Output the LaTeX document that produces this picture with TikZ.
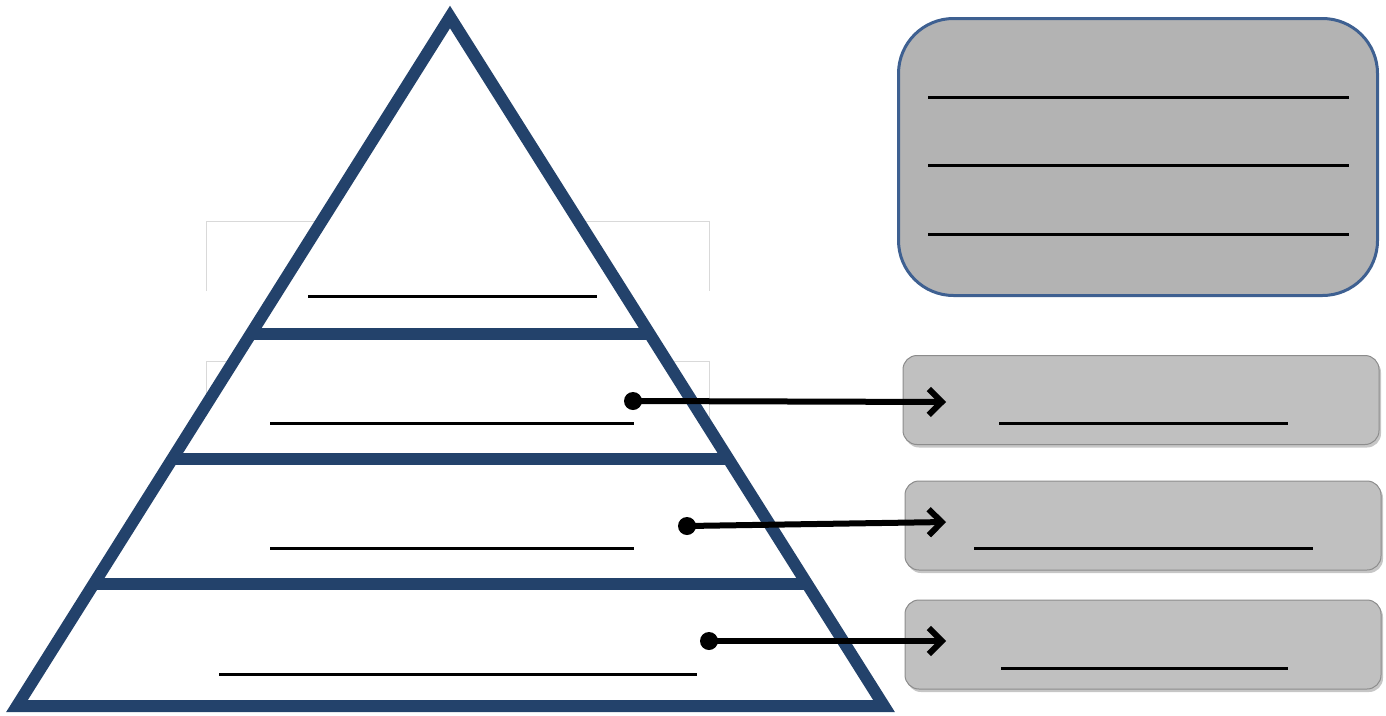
\documentclass[tikz,border=0pt]{standalone}
\usepackage{tikz}
\usetikzlibrary{arrows.meta, calc, shadows}

\definecolor{pyrblue}{RGB}{35,66,107}
\definecolor{notegray}{RGB}{179,179,179}
\definecolor{tabgray}{RGB}{192,192,192}
\definecolor{edgeblue}{RGB}{62,96,145}

\begin{document}
\begin{tikzpicture}[x=1pt, y=-1pt,
pyr/.style={draw=pyrblue, line width=12pt, line join=miter},
blank/.style={draw=black, line width=3pt},
ghost/.style={draw=black!15, line width=1pt},
note/.style={draw=edgeblue, fill=notegray, line width=3pt, rounded corners=55pt, minimum width=479pt, minimum height=277pt},
tab/.style={draw=black!45, fill=tabgray, line width=1pt, rounded corners=14pt, minimum width=476pt, minimum height=89pt, drop shadow={shadow xshift=2pt, shadow yshift=-3pt, opacity=0.45}},
dot/.style={circle, fill=black, inner sep=0pt, minimum size=18pt},
conn/.style={-{Straight Barb[length=13pt, width=26pt]}, line width=6pt, line cap=round, line join=round}]

\useasboundingbox (0,0) rectangle (1386,715);

\draw[ghost] (206,291) |- (709,221) -- (709,291);
\draw[ghost] (206,420) |- (709,361) -- (709,420);

\coordinate (apex) at (450,17);
\coordinate (bl)   at (17,706);
\coordinate (br)   at (884,706);
\draw[pyr, fill=white] (apex) -- (bl) -- (br) -- cycle;
\foreach \t in {0.460,0.642,0.823}
  \draw[pyr] ($(apex)!\t!(bl)$) -- ($(apex)!\t!(br)$);

\draw[blank] (308,296) -- (597,296);
\draw[blank] (270,423) -- (634,423);
\draw[blank] (270,548) -- (634,548);
\draw[blank] (219,674) -- (697,674);

\node[note] (N)  at (1138,157)   {};
\node[tab]  (T1) at (1141,400)   {};
\node[tab]  (T2) at (1143,525.5) {};
\node[tab]  (T3) at (1143,644.5) {};

\foreach \y in {97,165,234}
  \draw[blank] (928,\y) -- (1349,\y);
\draw[blank] (999,423)  -- (1288,423);
\draw[blank] (974,548)  -- (1313,548);
\draw[blank] (1001,668) -- (1288,668);

\node[dot] (D1) at (633,401) {};
\node[dot] (D2) at (687,526) {};
\node[dot] (D3) at (709,641) {};
\coordinate (E1) at (946,402);
\coordinate (E2) at (946,522);
\coordinate (E3) at (946,641);

\foreach \i in {1,2,3}
  \draw[conn] (D\i.center) -- (E\i);

\end{tikzpicture}
\end{document}
